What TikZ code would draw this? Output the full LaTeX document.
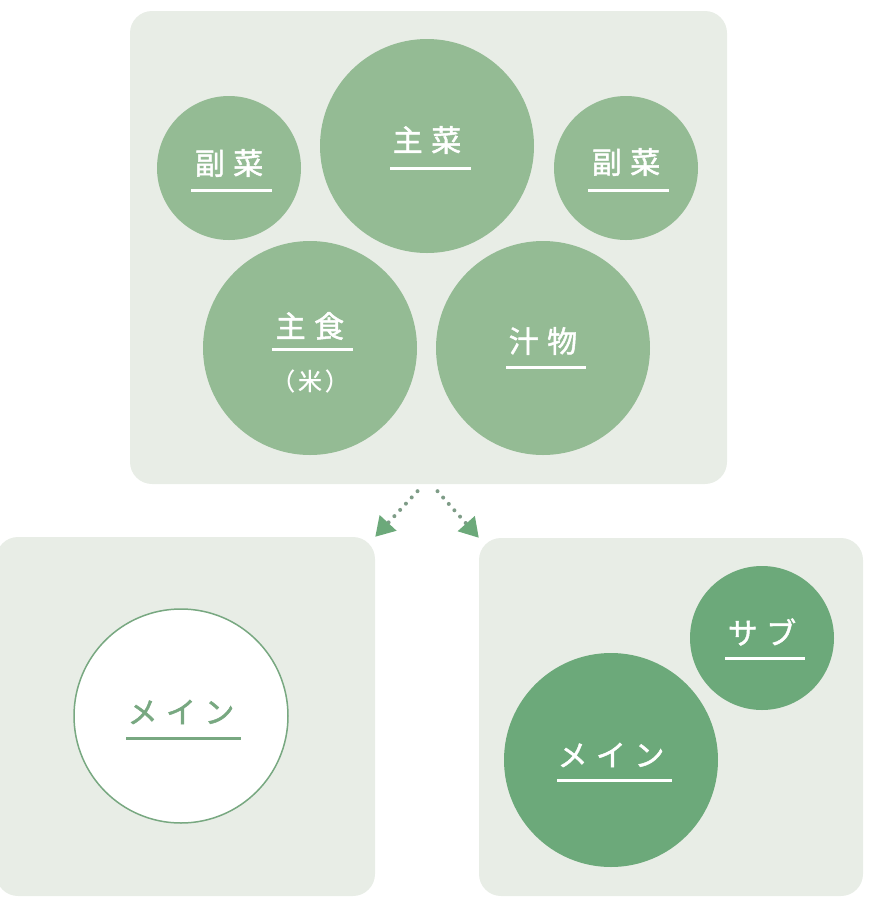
\documentclass[tikz,border=0pt]{standalone}
\usepackage{fontspec}
\usetikzlibrary{positioning}
\usetikzlibrary{arrows.meta, positioning}
\newfontfamily\jpfont[LetterSpace=28, FakeBold=1.6]{Noto Sans CJK JP}
\newfontfamily\jpsmall[LetterSpace=12, FakeBold=0.8]{Noto Sans CJK JP}

\definecolor{panelgray}{HTML}{E8EDE6}
\definecolor{sagegreen}{HTML}{94BB94}
\definecolor{deepgreen}{HTML}{6CA97A}
\definecolor{linegreen}{HTML}{78A881}
\definecolor{dotgray}{HTML}{7E9C87}

\tikzstyle{panel} = [fill=panelgray, rounded corners=22pt, inner sep=0pt]
\tikzstyle{dish} = [circle, inner sep=0pt]
\tikzstyle{dishname} = [font=\jpfont\fontsize{30}{34}\selectfont, text=white, inner sep=0pt]
\tikzstyle{uline} = [white, line width=3pt]
\tikzstyle{arrow} = [dotgray, line width=4pt, line cap=round, dash pattern=on 0pt off 8.5pt, -{Triangle[length=19pt, width=22pt, color=deepgreen]}]

\begin{document}
\begin{tikzpicture}[x=1pt, y=-1pt]
    \useasboundingbox (0,0) rectangle (870,914);

    % Panels
    \node[panel, minimum width=597pt, minimum height=473pt] (top) at (428.5,247.5) {};
    \node[panel, minimum width=379pt, minimum height=359pt] (left) at (185.5,716.5) {};
    \node[panel, minimum width=384pt, minimum height=358pt] (right) at (671,717) {};

    % Dishes
    \node[dish, fill=sagegreen, minimum size=144pt] (fuku1) at (229,168) {};
    \node[dish, fill=sagegreen, minimum size=214pt] (shusai) at (427,146) {};
    \node[dish, fill=sagegreen, minimum size=144pt] (fuku2) at (626,168) {};
    \node[dish, fill=sagegreen, minimum size=214pt] (shushoku) at (310,348) {};
    \node[dish, fill=sagegreen, minimum size=214pt] (shiru) at (543,348) {};
    \node[dish, fill=white, draw=linegreen, line width=1.5pt, minimum size=214pt] (mein1) at (181,716) {};
    \node[dish, fill=deepgreen, minimum size=214pt] (mein2) at (611,760) {};
    \node[dish, fill=deepgreen, minimum size=144pt] (sub) at (762,638) {};

    % Labels
    \node[dishname] (fuku1txt) at ([yshift=5pt]fuku1.center) {副菜};
    \node[dishname] (shusaitxt) at ([yshift=6pt]shusai.center) {主菜};
    \node[dishname] (fuku2txt) at ([yshift=6pt]fuku2.center) {副菜};
    \node[dishname] (shushokutxt) at ([yshift=22pt]shushoku.center) {主食};
    \node[font=\jpsmall\fontsize{24}{28}\selectfont, text=white, inner sep=0pt] (kome) at ([yshift=-33pt]shushoku.center) {（米）};
    \node[dishname] (shirutxt) at ([yshift=7pt]shiru.center) {汁物};
    \node[dishname, text=linegreen] (mein1txt) at ([yshift=4pt]mein1.center) {メイン};
    \node[dishname] (mein2txt) at ([yshift=5pt]mein2.center) {メイン};
    \node[dishname] (subtxt) at ([yshift=6pt]sub.center) {サブ};

    % Underlines
    \draw[uline] ([xshift=-38pt, yshift=-22pt]fuku1.center) -- ++(81,0);
    \draw[uline] ([xshift=-37pt, yshift=-22pt]shusai.center) -- ++(81,0);
    \draw[uline] ([xshift=-38pt, yshift=-22pt]fuku2.center) -- ++(81,0);
    \draw[uline] ([xshift=-38pt, yshift=-1pt]shushoku.center) -- ++(81,0);
    \draw[uline] ([xshift=-37pt, yshift=-19pt]shiru.center) -- ++(80,0);
    \draw[uline, linegreen] ([xshift=-55pt, yshift=-22pt]mein1.center) -- ++(115,0);
    \draw[uline] ([xshift=-54pt, yshift=-20pt]mein2.center) -- ++(115,0);
    \draw[uline] ([xshift=-37pt, yshift=-20pt]sub.center) -- ++(80,0);

    % Arrows
    \draw[arrow] ([xshift=-11pt, yshift=-7pt]top.south) -- (left.north east);
    \draw[arrow] ([xshift=9pt, yshift=-7pt]top.south) -- (right.north west);
\end{tikzpicture}
\end{document}
